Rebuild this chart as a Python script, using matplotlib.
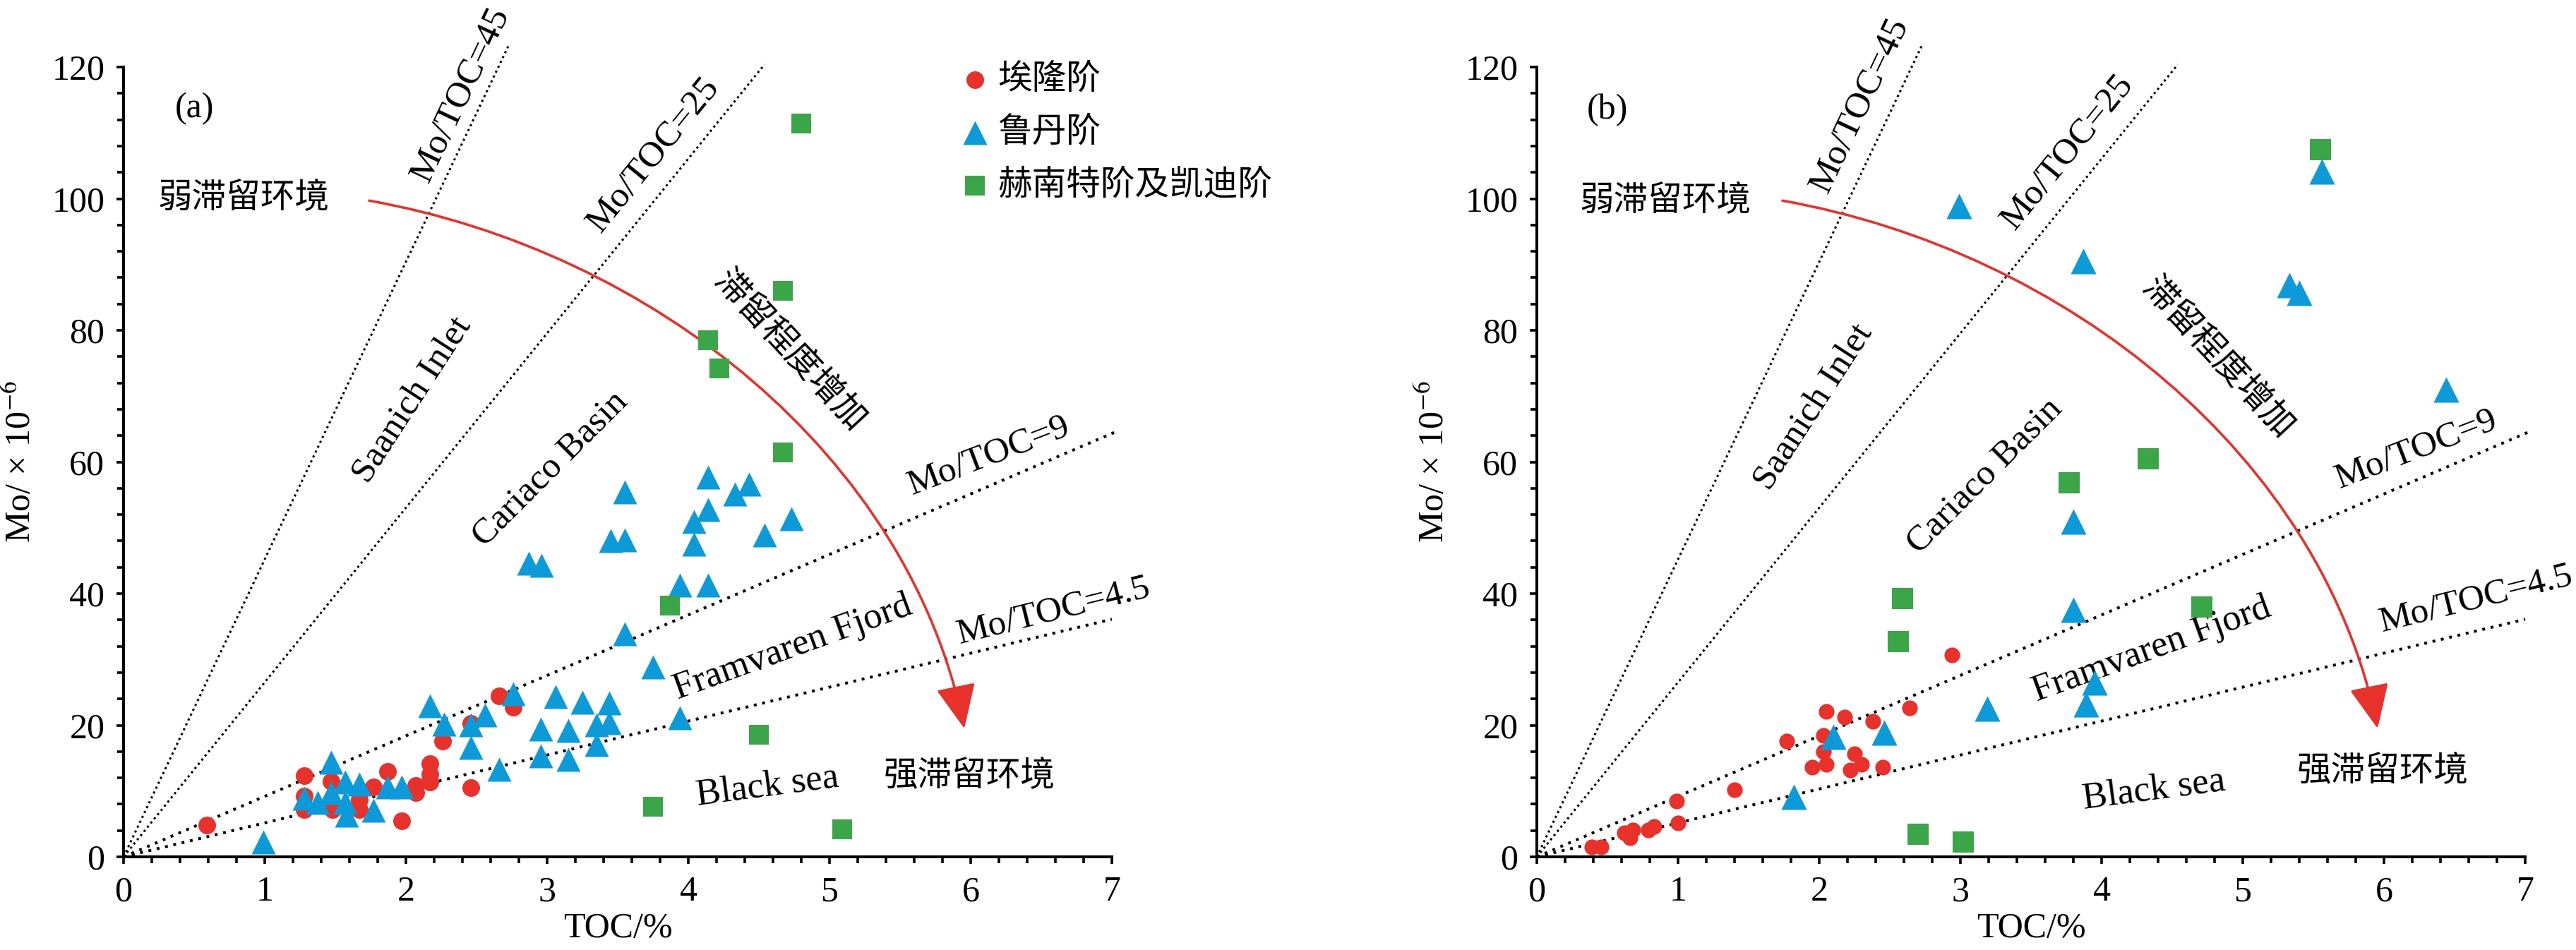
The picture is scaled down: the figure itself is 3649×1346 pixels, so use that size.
import matplotlib
matplotlib.use("Agg")
import matplotlib.pyplot as plt
from matplotlib.path import Path
from matplotlib.patches import FancyArrowPatch
from matplotlib.ticker import MultipleLocator

plt.rcParams['font.family'] = ['Liberation Serif', 'Noto Sans CJK SC']
plt.rcParams['mathtext.fontset'] = 'stix'

RED = '#e8312a'
BLUE = '#0c9ad8'
GREEN = '#3aa648'

stage_names = ['埃隆阶', '鲁丹阶', '赫南特阶及凯迪阶']

# ---- panel (a) data: TOC (%) and Mo (x10^-6) ----
a_aer_toc = [0.59, 1.28, 1.28, 1.28, 1.47, 1.48, 1.67, 1.67, 1.77, 1.87, 1.97,
             2.07, 2.07, 2.17, 2.17, 2.17, 2.26, 2.46, 2.46, 2.66, 2.76]
a_aer_mo = [4.8, 12.3, 9.2, 7.2, 11.5, 7.2, 8.7, 7.2, 10.6, 13.0, 5.5,
            10.8, 9.8, 14.2, 12.6, 11.4, 17.6, 20.3, 10.5, 24.5, 22.7]

a_rhu_toc = [0.99, 1.28, 1.375, 1.47, 1.47, 1.57, 1.67, 1.57, 1.58, 1.77, 1.87,
             1.97, 2.17, 2.27, 2.46, 2.56, 2.46, 2.66, 2.76, 2.87, 2.96, 2.955,
             2.955, 3.06, 3.15, 3.15, 3.25, 3.35, 3.35, 3.44, 3.44, 3.45, 3.55,
             3.55, 3.55, 3.75, 3.94, 3.94, 4.04, 4.04, 4.14, 4.14, 4.14, 4.33,
             4.43, 4.54, 4.73]
a_rhu_mo = [2.2, 8.9, 8.3, 14.4, 9.75, 11.4, 11.0, 8.3, 6.3, 7.1, 10.6,
            10.6, 23.0, 20.2, 20.1, 21.6, 16.6, 13.3, 24.8, 44.6, 44.3, 19.4,
            15.3, 24.3, 19.2, 14.8, 23.5, 20.1, 17.0, 23.4, 20.4, 48.0, 48.2,
            55.4, 33.9, 28.9, 21.1, 41.3, 47.5, 50.9, 41.3, 52.8, 57.7, 55.1,
            56.6, 48.9, 51.4]

a_hir_toc = [3.75, 3.87, 4.14, 4.22, 4.50, 4.67, 4.67, 4.80, 5.09]
a_hir_mo = [7.6, 38.2, 78.5, 74.2, 18.5, 86.0, 61.4, 111.4, 4.2]

# ---- panel (b) data ----
b_aer_toc = [0.39, 0.455, 0.62, 0.66, 0.68, 0.79, 0.83, 0.99, 1.00, 1.40, 1.77,
             1.95, 2.03, 2.03, 2.05, 2.05, 2.18, 2.22, 2.25, 2.30, 2.38, 2.45,
             2.64, 2.94]
b_aer_mo = [1.5, 1.5, 3.6, 2.9, 4.1, 4.1, 4.6, 8.5, 5.2, 10.2, 17.6,
            13.6, 18.4, 16.0, 22.1, 14.1, 21.2, 13.2, 15.7, 14.0, 20.6, 13.6,
            22.6, 30.7]

b_rhu_toc = [1.82, 2.10, 2.46, 2.99, 3.19, 3.80, 3.80, 3.87, 3.89, 3.95, 5.33,
             5.40, 5.56, 6.44]
b_rhu_mo = [9.1, 18.2, 18.9, 98.9, 22.5, 50.9, 37.5, 90.5, 23.2, 26.5, 86.9,
            85.7, 104.1, 71.0]

b_hir_toc = [2.56, 2.59, 2.70, 3.02, 3.77, 4.33, 4.71, 5.55]
b_hir_mo = [32.7, 39.3, 3.4, 2.2, 56.8, 60.5, 38.0, 107.4]

# Mo/TOC reference lines (drawn from the origin to these ends)
ref_labels = ['Mo/TOC=45', 'Mo/TOC=25', 'Mo/TOC=9', 'Mo/TOC=4.5']
ref_end_toc = [2.73, 4.54, 7.03, 7.0]
ref_end_mo = [123.4, 120.4, 64.6, 36.1]

# red "increasing restriction" arc (cubic bezier control points)
arc_toc = [1.74, 3.75, 5.56, 5.955]
arc_mo = [99.7, 92.0, 61.0, 19.5]


def draw_panel(ax, aer, rhu, hir, sizes, texts, tag_xy, weak_xy, strong_xy):
    ax.scatter(aer[0], aer[1], s=sizes[0] ** 2, marker='o', color=RED,
               linewidths=0, zorder=3, label=stage_names[0])
    ax.scatter(rhu[0], rhu[1], s=sizes[1] ** 2, marker='^', color=BLUE,
               linewidths=0, zorder=4, label=stage_names[1])
    ax.scatter(hir[0], hir[1], s=sizes[2] ** 2, marker='s', color=GREEN,
               linewidths=0, zorder=5, label=stage_names[2])

    for i in range(4):
        if i < 2:
            lw, ls = 2.2, (0, (1, 1.5))
        else:
            lw, ls = 2.9, (0, (1, 2))
        ax.plot([0, ref_end_toc[i]], [0, ref_end_mo[i]], color='k', lw=lw,
                ls=ls, clip_on=False, zorder=2, dash_capstyle='butt')

    path = Path(list(zip(arc_toc, arc_mo)),
                [Path.MOVETO, Path.CURVE4, Path.CURVE4, Path.CURVE4])
    arrow = FancyArrowPatch(path=path, transform=ax.transData,
                            arrowstyle='-|>,head_length=0.39,head_width=0.176',
                            mutation_scale=100, color=RED, lw=2.6, zorder=2)
    ax.add_patch(arrow)

    for txt, x, y, rot, fs in texts:
        ax.text(x, y, txt, rotation=rot, rotation_mode='anchor', ha='center',
                va='center', fontsize=fs)

    ax.text(tag_xy[0], tag_xy[1], tag_xy[2], ha='center', va='center', fontsize=36)
    ax.text(weak_xy[0], weak_xy[1], '弱滞留环境', ha='left', va='center', fontsize=35)
    ax.text(strong_xy[0], strong_xy[1], '强滞留环境', ha='center', va='center', fontsize=35)

    ax.set_xlim(0, 7)
    ax.set_ylim(0, 120)
    ax.xaxis.set_major_locator(MultipleLocator(1))
    ax.xaxis.set_minor_locator(MultipleLocator(0.2))
    ax.yaxis.set_major_locator(MultipleLocator(20))
    ax.yaxis.set_minor_locator(MultipleLocator(4))
    for s in ['top', 'right']:
        ax.spines[s].set_visible(False)
    for s in ['left', 'bottom']:
        ax.spines[s].set_linewidth(2.9)
    ax.tick_params(which='major', direction='out', length=7.2, width=2.6,
                   labelsize=36, pad=12)
    ax.tick_params(which='minor', direction='out', length=6.2, width=2.6)
    ax.set_xlabel('TOC/%', fontsize=36, labelpad=4)
    ax.set_ylabel('Mo/ × 10$^{-6}$', fontsize=36, labelpad=14)


fig = plt.figure(figsize=(36.49, 13.46), dpi=100)
ax_a = fig.add_axes([175 / 3649, 132 / 1346, 1400 / 3649, 1119 / 1346])
ax_b = fig.add_axes([2177 / 3649, 132 / 1346, 1400 / 3649, 1119 / 1346])

texts_a = [
    (ref_labels[0], 2.39, 115.8, 64.7, 37),
    (ref_labels[1], 3.755, 106.6, 50.9, 37),
    ('Saanich Inlet', 2.05, 69.4, 57, 37),
    ('Cariaco Basin', 3.02, 58.9, 45, 37),
    ('滞留程度增加', 4.72, 76.9, -47, 35),
    (ref_labels[2], 6.13, 60.9, 21, 37),
    (ref_labels[3], 6.585, 37.3, 14, 37),
    ('Framvaren Fjord', 4.74, 31.8, 20, 38),
    ('Black sea', 4.56, 10.7, 7.5, 38),
]
texts_b = [
    (ref_labels[0], 2.29, 114.2, 64.7, 37),
    (ref_labels[1], 3.757, 107.1, 50.9, 37),
    ('Saanich Inlet', 1.965, 68.3, 57, 37),
    ('Cariaco Basin', 3.17, 57.8, 45, 37),
    ('滞留程度增加', 4.825, 75.9, -47, 35),
    (ref_labels[2], 6.23, 61.8, 21, 37),
    (ref_labels[3], 6.65, 39.1, 14, 37),
    ('Framvaren Fjord', 4.355, 31.5, 20, 38),
    ('Black sea', 4.37, 10.2, 7.5, 38),
]

draw_panel(ax_a, (a_aer_toc, a_aer_mo), (a_rhu_toc, a_rhu_mo), (a_hir_toc, a_hir_mo),
           (18, 24.5, 19.5), texts_a, (0.5, 113.7, '(a)'), (0.245, 100), (5.99, 12.2))
draw_panel(ax_b, (b_aer_toc, b_aer_mo), (b_rhu_toc, b_rhu_mo), (b_hir_toc, b_hir_mo),
           (16, 26, 21.5), texts_b, (0.5, 113.5, '(b)'), (0.30, 99.6), (5.99, 12.9))

ax_a.legend(loc='upper left', bbox_to_anchor=(5.91, 120.5), bbox_transform=ax_a.transData,
            frameon=False, borderpad=0, borderaxespad=0, handlelength=1.0,
            handletextpad=0.15, labelspacing=0.6, scatterpoints=1, prop={'size': 35})

fig.savefig('out.png', dpi=100)
